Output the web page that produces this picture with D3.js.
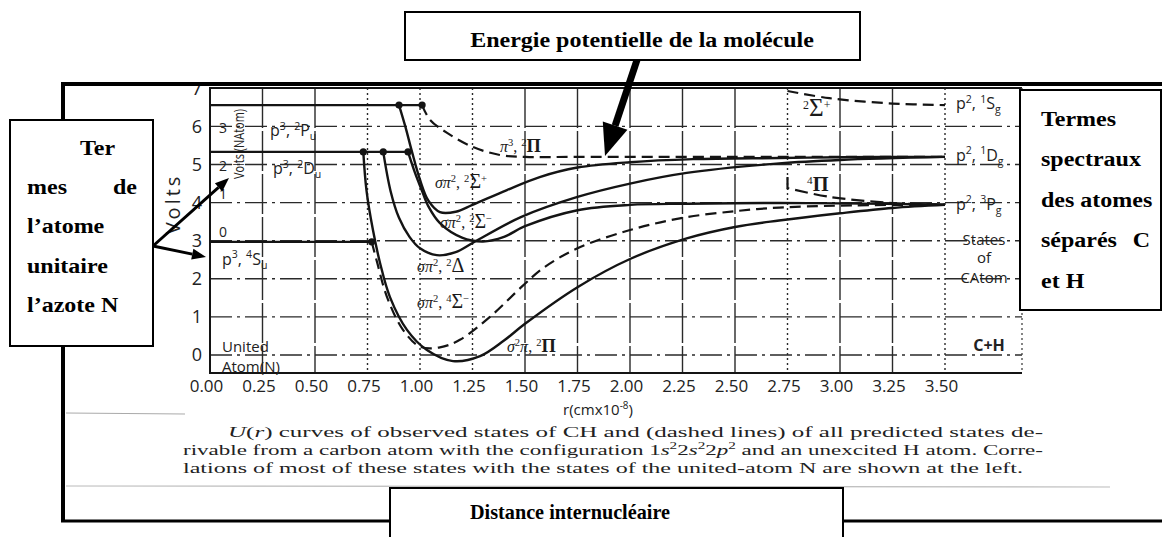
<!DOCTYPE html>
<html>
<head>
<meta charset="utf-8">
<script src="https://cdn.jsdelivr.net/npm/d3@7"></script>
<style>
  html, body { margin: 0; padding: 0; background: #fff; }
  svg { display: block; }
</style>
</head>
<body>
<svg id="chart" width="1162" height="537"></svg>
<script>
// ---- axis ticks ----
const rTicks = [0, 0.25, 0.5, 0.75, 1.0, 1.25, 1.5, 1.75, 2.0, 2.25, 2.5, 2.75, 3.0, 3.25, 3.5];
const dottedRTicks = [0.75, 1.0, 1.25, 2.75, 3.5];
const voltTicks = [0, 1, 2, 3, 4, 5, 6, 7];
const nAtomTicks = [0, 1, 2, 3];
const nAtomZero = 2.97;   // N(4S) ground level on the volt scale

// ---- united atom N levels (volts) and where the molecular curves leave them (r) ----
const unitedLevelVolts = [6.56, 5.33, 2.97];
const unitedLevelEnds = [1.01, 0.943, 0.77];
const unitedLevelDots = [[0.90, 1.01], [0.73, 0.825, 0.943], [0.77]];

// ---- separated atoms C + H (volts) ----
const separatedVolts = [6.56, 5.2, 3.94];

// ---- potential curves U(r): [r (1e-8 cm), volts] ----
const groundPi = [[0.73, 5.33], [0.745, 4.33], [0.776, 3.28], [0.81, 2.41], [0.857, 1.52], [0.938, 0.66],
  [1.033, 0.13], [1.157, -0.16], [1.286, -0.03], [1.40, 0.38], [1.5, 0.82], [1.75, 1.78], [2.0, 2.52],
  [2.27, 3.06], [2.5, 3.36], [2.71, 3.53], [3.0, 3.72], [3.25, 3.86], [3.5, 3.94]];
const quartetSigmaMinus = [[0.77, 2.97], [0.795, 2.45], [0.843, 1.52], [0.919, 0.66], [1.0, 0.22],
  [1.095, 0.2], [1.19, 0.4], [1.333, 1.0], [1.49, 1.82], [1.586, 2.28], [1.75, 2.8], [2.0, 3.28],
  [2.25, 3.6], [2.51, 3.78], [2.71, 3.87], [3.0, 3.92], [3.5, 3.95]];
const deltaState = [[0.825, 5.33], [0.86, 4.3], [0.9, 3.6], [0.95, 3.1], [1.0, 2.8], [1.08, 2.62],
  [1.17, 2.7], [1.25, 2.94], [1.48, 3.62], [1.75, 4.15], [2.0, 4.5], [2.27, 4.78], [2.71, 5.03],
  [3.0, 5.12], [3.5, 5.2]];
const sigmaMinus = [[0.943, 5.33], [0.975, 4.8], [1.01, 4.3], [1.04, 3.9], [1.095, 3.46], [1.2, 3.08],
  [1.3, 2.98], [1.4, 3.1], [1.5, 3.38], [1.75, 3.8], [2.0, 3.94], [2.27, 3.97], [2.71, 3.99],
  [3.0, 3.98], [3.5, 3.95]];
const sigmaPlus = [[0.9, 6.56], [0.93, 6.0], [0.962, 5.33], [1.0, 4.6], [1.04, 4.05], [1.095, 3.75],
  [1.17, 3.76], [1.25, 3.94], [1.414, 4.33], [1.57, 4.67], [1.75, 4.92], [2.0, 5.06], [2.3, 5.14],
  [2.71, 5.17], [3.0, 5.19], [3.5, 5.2]];
const piCubed = [[1.01, 6.56], [1.048, 6.17], [1.129, 5.83], [1.252, 5.46], [1.38, 5.25], [1.5, 5.2],
  [1.75, 5.2], [2.5, 5.2], [3.5, 5.2]];
const repulsiveSigmaPlus = [[2.75, 6.93], [2.95, 6.74], [3.25, 6.6], [3.5, 6.56]];
const repulsiveQuartetPi = [[2.75, 4.67], [2.75, 4.38], [2.95, 4.15], [3.25, 3.99], [3.5, 3.94]];

const svg = d3.select("#chart");
const x = d3.scaleLinear().domain([0, 3.5]).range([210, 945]);
const y = d3.scaleLinear().domain([0, 7]).range([355, 88.3]);
const plotLeft = 210, plotRight = 1022, plotTop = 88, plotBottom = 373;
const ink = "#141414";
const sans = "'Open Sans', 'DejaVu Sans', sans-serif";
const serif = "'Liberation Serif', 'DejaVu Serif', serif";

// rich text with super/subscripts
function rich(sel, parts, fs) {
  let shift = 0;
  parts.forEach(p => {
    const target = p.sup ? -fs * 0.4 : p.sub ? fs * 0.25 : 0;
    const t = sel.append("tspan").text(p.t)
      .attr("dy", target - shift)
      .attr("font-size", (p.sup || p.sub) ? fs * 0.66 : fs * (p.big || 1));
    if (p.i) t.attr("font-style", "italic");
    if (p.b) t.attr("font-weight", "bold");
    if (p.f) t.attr("font-family", p.f);
    shift = target;
  });
}

// ---- grid ----
const grid = svg.append("g").attr("stroke", "#2a2a2a").attr("stroke-width", 1.4);
grid.selectAll("line.v").data(rTicks.filter(d => d > 0)).join("line")
  .attr("x1", d => x(d)).attr("x2", d => x(d))
  .attr("y1", plotTop).attr("y2", plotBottom)
  .attr("stroke-dasharray", d => dottedRTicks.includes(d) ? "2,3" : "40,3");
grid.selectAll("line.h").data(voltTicks.filter(d => d < 7)).join("line")
  .attr("x1", plotLeft).attr("x2", plotRight)
  .attr("y1", d => y(d)).attr("y2", d => y(d))
  .attr("stroke-dasharray", "22,5,3,5");

// plot frame
svg.append("path")
  .attr("d", `M${plotRight},${plotTop}H${plotLeft}V${plotBottom}H${plotRight}`)
  .attr("fill", "none").attr("stroke", ink).attr("stroke-width", 2);
svg.append("line").attr("x1", plotRight).attr("x2", plotRight).attr("y1", plotTop).attr("y2", plotBottom)
  .attr("stroke", "#444").attr("stroke-width", 1.3).attr("stroke-dasharray", "2,3");

// ---- axes ----
const xAxis = svg.append("g").attr("transform", `translate(0,${plotBottom})`)
  .call(d3.axisBottom(x).tickValues(rTicks).tickFormat(d3.format(".2f")).tickSize(0).tickPadding(7));
xAxis.select(".domain").remove();
xAxis.selectAll("text").attr("font-family", sans).attr("font-size", 17).attr("fill", "#222").attr("dx", -4);

const yAxis = svg.append("g").attr("transform", `translate(${plotLeft},0)`)
  .call(d3.axisLeft(y).tickValues(voltTicks).tickFormat(d3.format("d")).tickSize(0).tickPadding(8));
yAxis.select(".domain").remove();
yAxis.selectAll("text").attr("font-family", sans).attr("font-size", 18).attr("fill", "#222");

svg.append("text").attr("transform", "translate(180,204) rotate(-90)")
  .attr("text-anchor", "middle").attr("font-family", sans).attr("font-size", 20)
  .attr("letter-spacing", 3).attr("fill", "#222").text("Volts");

svg.append("text").attr("transform", "translate(244,144) rotate(-90)")
  .attr("text-anchor", "middle").attr("font-family", sans).attr("font-size", 14)
  .attr("textLength", 70).attr("lengthAdjust", "spacingAndGlyphs")
  .attr("fill", "#222").text("Volts (NAtom)");

svg.selectAll("text.natom").data(nAtomTicks).join("text")
  .attr("x", 223).attr("y", d => y(nAtomZero + d) + (d < 2 ? -5 : 5))
  .attr("text-anchor", "middle").attr("font-family", sans).attr("font-size", 14)
  .attr("fill", "#222").text(d => d);

const xTitle = svg.append("text").attr("x", 598).attr("y", 415).attr("text-anchor", "middle")
  .attr("font-family", sans).attr("font-size", 15).attr("fill", "#222");
rich(xTitle, [{ t: "r(cmx10" }, { t: "-8", sup: true }, { t: ")" }], 15);

// ---- united atom levels ----
const levels = svg.append("g");
levels.selectAll("line").data(unitedLevelVolts).join("line")
  .attr("x1", x(0)).attr("x2", (d, i) => x(unitedLevelEnds[i]))
  .attr("y1", d => y(d)).attr("y2", d => y(d))
  .attr("stroke", ink).attr("stroke-width", 2.2);

// ---- curves ----
const line = d3.line().x(d => x(d[0])).y(d => y(d[1])).curve(d3.curveCatmullRom.alpha(0.5));
// a curve whose first point joins it with a straight stroke (the corner of the 4Π curve)
const cornerLine = pts => `M${x(pts[0][0])},${y(pts[0][1])}L` + line(pts.slice(1)).slice(1);
const solidCurves = [groundPi, deltaState, sigmaMinus, sigmaPlus];
const dashedCurves = [quartetSigmaMinus, piCubed, repulsiveSigmaPlus];
svg.append("g").selectAll("path").data(solidCurves).join("path")
  .attr("d", line).attr("fill", "none").attr("stroke", ink).attr("stroke-width", 2.4);
svg.append("g").selectAll("path").data(dashedCurves).join("path")
  .attr("d", line).attr("fill", "none").attr("stroke", ink).attr("stroke-width", 2.2)
  .attr("stroke-dasharray", "11,6");
svg.append("path").datum(repulsiveQuartetPi)
  .attr("d", cornerLine).attr("fill", "none").attr("stroke", ink).attr("stroke-width", 2.2)
  .attr("stroke-dasharray", "13,6");

// junction dots
const dots = unitedLevelDots.flatMap((rs, i) => rs.map(r => [r, unitedLevelVolts[i]]));
svg.append("g").selectAll("circle").data(dots).join("circle")
  .attr("cx", d => x(d[0])).attr("cy", d => y(d[1])).attr("r", 3.6).attr("fill", ink);

// ---- level labels (united atom) ----
const lvlLabel = (r, v, parts, fs) => {
  const t = svg.append("text").attr("x", x(r)).attr("y", y(v))
    .attr("font-family", sans).attr("font-size", fs).attr("fill", "#222");
  rich(t, parts, fs);
  return t;
};
lvlLabel(0.286, 5.75, [{ t: "p" }, { t: "3", sup: true }, { t: ", " }, { t: "2", sup: true }, { t: "P" }, { t: "u", sub: true }], 16);
lvlLabel(0.30, 4.75, [{ t: "p" }, { t: "3", sup: true }, { t: ", " }, { t: "2", sup: true }, { t: "D" }, { t: "u", sub: true }], 16);
lvlLabel(0.057, 2.37, [{ t: "p" }, { t: "3", sup: true }, { t: ", " }, { t: "4", sup: true }, { t: "S" }, { t: "u", sub: true }], 16);
lvlLabel(0.057, 0.08, [{ t: "United" }], 15);
lvlLabel(0.057, -0.45, [{ t: "Atom(N)" }], 15);

// ---- separated atom labels ----
const sepParts = [
  [{ t: "p" }, { t: "2", sup: true }, { t: ", " }, { t: "1", sup: true }, { t: "S" }, { t: "g", sub: true }],
  [{ t: "p" }, { t: "2", sup: true }, { t: ", " }, { t: "1", sup: true }, { t: "D" }, { t: "g", sub: true }],
  [{ t: "p" }, { t: "2", sup: true }, { t: ", " }, { t: "3", sup: true }, { t: "P" }, { t: "g", sub: true }]
];
separatedVolts.forEach((v, i) => {
  const t = svg.append("text").attr("x", 956).attr("y", y(v) + (i === 2 ? 5 : 4))
    .attr("font-family", sans).attr("font-size", 16).attr("fill", "#222");
  rich(t, sepParts[i], 16);
});
[["States", 245], ["of", 263], ["CAtom", 283]].forEach(([s, yy]) => {
  svg.append("text").attr("x", 984).attr("y", yy).attr("text-anchor", "middle")
    .attr("font-family", sans).attr("font-size", 15).attr("fill", "#222").text(s);
});
svg.append("text").attr("x", 989).attr("y", 351).attr("text-anchor", "middle")
  .attr("font-family", sans).attr("font-size", 16).attr("font-weight", "bold").attr("fill", "#222").text("C+H");

// ---- curve labels ----
const curveLabel = (r, v, parts, fs) => {
  const t = svg.append("text").attr("x", x(r)).attr("y", y(v))
    .attr("font-family", serif).attr("font-size", fs).attr("fill", "#1a1a1a");
  rich(t, parts, fs);
};
curveLabel(1.381, 5.33, [{ t: "π", i: true }, { t: "3", sup: true }, { t: ", " }, { t: "2", sup: true }, { t: "Π", b: true, big: 1.15 }], 16);
curveLabel(1.071, 4.38, [{ t: "σπ", i: true }, { t: "2", sup: true }, { t: ", " }, { t: "2", sup: true }, { t: "Σ", big: 1.25 }, { t: "+", sup: true }], 16);
curveLabel(1.095, 3.33, [{ t: "σπ", i: true }, { t: "2", sup: true }, { t: ", " }, { t: "2", sup: true }, { t: "Σ", big: 1.25 }, { t: "−", sup: true }], 16);
curveLabel(0.986, 2.18, [{ t: "σπ", i: true }, { t: "2", sup: true }, { t: ", " }, { t: "2", sup: true }, { t: "Δ", big: 1.25 }], 16);
curveLabel(0.986, 1.23, [{ t: "σπ", i: true }, { t: "2", sup: true }, { t: ", " }, { t: "4", sup: true }, { t: "Σ", big: 1.25 }, { t: "−", sup: true }], 16);
curveLabel(1.414, 0.08, [{ t: "σ", i: true }, { t: "2", sup: true }, { t: "π", i: true }, { t: ", " }, { t: "2", sup: true }, { t: "Π", b: true, big: 1.15 }], 16);
curveLabel(2.824, 6.28, [{ t: "2", sup: true }, { t: "Σ", big: 1.4 }, { t: "+", sup: true }], 18);
curveLabel(2.843, 4.31, [{ t: "4", sup: true }, { t: "Π", b: true, big: 1.2 }], 17);

// ---- caption ----
const cap1 = svg.append("text").attr("x", 228).attr("y", 437).attr("font-family", serif)
  .attr("font-size", 15.5).attr("fill", "#222").attr("textLength", 815).attr("lengthAdjust", "spacingAndGlyphs");
rich(cap1, [{ t: "U", i: true }, { t: "(" }, { t: "r", i: true }, { t: ") curves of observed states of CH and (dashed lines) of all predicted states de-" }], 15.5);
const cap2 = svg.append("text").attr("x", 183).attr("y", 455).attr("font-family", serif)
  .attr("font-size", 15.5).attr("fill", "#222").attr("textLength", 860).attr("lengthAdjust", "spacingAndGlyphs");
rich(cap2, [{ t: "rivable from a carbon atom with the configuration 1" }, { t: "s", i: true }, { t: "2", sup: true },
  { t: "2" }, { t: "s", i: true }, { t: "2", sup: true }, { t: "2" }, { t: "p", i: true }, { t: "2", sup: true },
  { t: " and an unexcited H atom. Corre-" }], 15.5);
svg.append("text").attr("x", 183).attr("y", 473).attr("font-family", serif)
  .attr("font-size", 15.5).attr("fill", "#222").attr("textLength", 840).attr("lengthAdjust", "spacingAndGlyphs")
  .text("lations of most of these states with the states of the united-atom N are shown at the left.");

// faint page edges of the scanned figure
svg.append("line").attr("x1", 66).attr("x2", 185).attr("y1", 413).attr("y2", 414).attr("stroke", "#aaa").attr("stroke-width", 1.2);
svg.append("line").attr("x1", 66).attr("x2", 1110).attr("y1", 486).attr("y2", 487).attr("stroke", "#bbb").attr("stroke-width", 1.2);

// ---- outer frame ----
const frame = svg.append("g").attr("stroke", "#000").attr("fill", "none");
frame.append("line").attr("x1", 61).attr("x2", 1162).attr("y1", 84).attr("y2", 84).attr("stroke-width", 4);
frame.append("line").attr("x1", 63).attr("x2", 63).attr("y1", 82).attr("y2", 522).attr("stroke-width", 4);
frame.append("line").attr("x1", 61).attr("x2", 391).attr("y1", 521).attr("y2", 521).attr("stroke-width", 3);
frame.append("line").attr("x1", 842).attr("x2", 1162).attr("y1", 521).attr("y2", 521).attr("stroke-width", 3);

// ---- annotation boxes ----
const boxSerif = "'Liberation Serif', 'Times New Roman', serif";
function box(x0, y0, w, h) {
  svg.append("rect").attr("x", x0).attr("y", y0).attr("width", w).attr("height", h)
    .attr("fill", "#fff").attr("stroke", "#000").attr("stroke-width", 2);
}
// bold text, widened horizontally like the page it sits on
function boxText(str, px, py, anchor) {
  svg.append("text").attr("transform", `translate(${px},${py}) scale(1.2,1)`)
    .attr("text-anchor", anchor || "start").attr("font-family", boxSerif)
    .attr("font-weight", "bold").attr("font-size", 20).attr("fill", "#000").text(str);
}
box(405, 12, 455, 48);
boxText("Energie potentielle de la molécule", 642, 47, "middle");

box(10, 120, 143, 226);
boxText("Ter", 80, 155);
boxText("mes", 27, 194);
boxText("de", 137, 194, "end");
boxText("l\u2019atome", 27, 233);
boxText("unitaire", 27, 273);
boxText("l\u2019azote N", 27, 312);

box(1020, 90, 141, 220);
boxText("Termes", 1041, 126);
boxText("spectraux", 1041, 166);
boxText("des atomes", 1041, 207);
boxText("séparés", 1041, 247);
boxText("C", 1150, 247, "end");
boxText("et H", 1041, 288);

box(390, 488, 453, 60);
svg.append("text").attr("x", 570).attr("y", 519).attr("text-anchor", "middle")
  .attr("font-family", boxSerif).attr("font-weight", "bold").attr("font-size", 21)
  .attr("textLength", 200).attr("lengthAdjust", "spacingAndGlyphs").text("Distance internucléaire");

// ---- arrows ----
function arrow(x1, y1, x2, y2, width, headLen, headW) {
  const a = Math.atan2(y2 - y1, x2 - x1);
  const bx = x2 - headLen * Math.cos(a), by = y2 - headLen * Math.sin(a);
  svg.append("line").attr("x1", x1).attr("y1", y1).attr("x2", bx).attr("y2", by)
    .attr("stroke", "#000").attr("stroke-width", width);
  const px = -Math.sin(a) * headW / 2, py = Math.cos(a) * headW / 2;
  svg.append("polygon")
    .attr("points", `${x2},${y2} ${bx + px},${by + py} ${bx - px},${by - py}`)
    .attr("fill", "#000");
}
arrow(637, 60, 605, 156, 7, 32, 26);
arrow(153, 246, 229, 178, 3, 14, 11);
arrow(153, 246, 206, 257, 3, 14, 11);
</script>
</body>
</html>
